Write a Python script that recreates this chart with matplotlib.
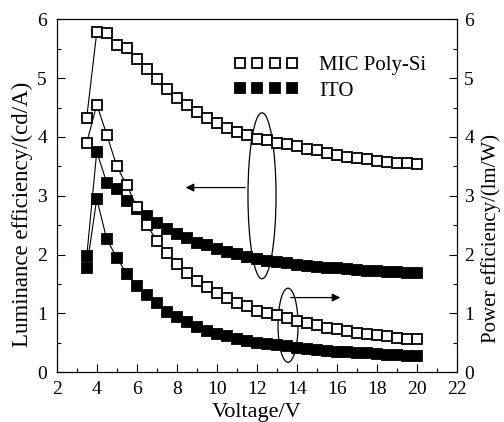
import matplotlib
matplotlib.use("Agg")
import matplotlib.pyplot as plt
import numpy as np
from matplotlib.patches import Ellipse

plt.rcParams['font.family'] = ['Liberation Serif', 'DejaVu Serif']
plt.rcParams['font.size'] = 14

# voltage steps (V)
voltage = np.arange(3.5, 20.01, 0.5)

# luminance efficiency (cd/A)
lum_mic = [4.33, 5.78, 5.77, 5.56, 5.52, 5.33, 5.16, 4.98, 4.82, 4.67,
           4.55, 4.43, 4.33, 4.24, 4.15, 4.08, 4.03, 3.96, 3.94, 3.89,
           3.88, 3.84, 3.80, 3.77, 3.73, 3.70, 3.66, 3.64, 3.62, 3.59,
           3.57, 3.56, 3.55, 3.54]
lum_ito = [1.97, 3.75, 3.22, 3.11, 2.91, 2.78, 2.66, 2.54, 2.43, 2.35,
           2.28, 2.20, 2.16, 2.09, 2.05, 2.01, 1.96, 1.92, 1.89, 1.87,
           1.85, 1.82, 1.80, 1.79, 1.78, 1.77, 1.76, 1.74, 1.73, 1.72,
           1.71, 1.70, 1.69, 1.68]

# power efficiency (lm/W)
pow_mic = [3.90, 4.55, 4.04, 3.50, 3.18, 2.81, 2.50, 2.24, 2.03, 1.84,
           1.69, 1.56, 1.45, 1.35, 1.27, 1.18, 1.12, 1.05, 1.01, 0.97,
           0.93, 0.87, 0.83, 0.80, 0.76, 0.73, 0.70, 0.67, 0.65, 0.63,
           0.61, 0.59, 0.57, 0.57]
pow_ito = [1.78, 2.95, 2.26, 1.95, 1.67, 1.47, 1.31, 1.17, 1.03, 0.94,
           0.86, 0.77, 0.70, 0.65, 0.61, 0.57, 0.53, 0.50, 0.48, 0.46,
           0.44, 0.42, 0.40, 0.38, 0.37, 0.35, 0.34, 0.33, 0.32, 0.31,
           0.30, 0.29, 0.28, 0.27]

fig = plt.figure(figsize=(5.04, 4.22), dpi=100)
ax = fig.add_axes([0.1125, 0.1178, 0.7948, 0.8365])
ax2 = ax.twinx()

ms = 7
open_style = dict(color='black', lw=0.8, marker='s', ms=ms, mfc='white', mec='black', mew=1.3)
fill_style = dict(color='black', lw=0.8, marker='s', ms=ms, mfc='black', mec='black', mew=1.3)

ax.plot(voltage, lum_mic, label='MIC Poly-Si', **open_style)
ax.plot(voltage, lum_ito, label='ITO', **fill_style)
ax2.plot(voltage, pow_mic, **open_style)
ax2.plot(voltage, pow_ito, **fill_style)

for a in (ax, ax2):
    a.set_ylim(0, 6)
    a.set_yticks(np.arange(0, 7, 1))
    a.set_yticks(np.arange(0, 6.01, 0.5), minor=True)
ax.set_xlim(2, 22)
ax.set_xticks(np.arange(2, 23, 2))
ax.set_xticks(np.arange(2, 22.01, 1), minor=True)

ax.tick_params(which='both', direction='in', top=False, right=False)
ax.tick_params(which='major', length=6, width=0.8)
ax.tick_params(which='minor', length=3, width=0.8)
ax.tick_params(axis='x', which='major', pad=6)
ax.tick_params(axis='y', which='major', pad=7)
ax2.tick_params(which='both', direction='in')
ax2.tick_params(which='major', length=6, width=0.8, pad=5)
ax2.tick_params(which='minor', length=3, width=0.8)

ax.set_xlabel('Voltage/V', fontsize=16)
ax.set_ylabel('Luminance efficiency/(cd/A)', fontsize=16.5)
ax2.set_ylabel('Power efficiency/(lm/W)', fontsize=15)
ax.xaxis.set_label_coords(0.5, -0.088)
ax.yaxis.set_label_coords(-0.058, 0.448)
ax2.yaxis.set_label_coords(1.0595, 0.378)

# ellipses and arrows
ax.add_patch(Ellipse((12.25, 3.0), 1.4, 2.82, fill=False, ec='black', lw=0.9))
ax.annotate('', xy=(8.3, 3.14), xytext=(11.55, 3.14),
            arrowprops=dict(arrowstyle='-|>', color='black', lw=0.9, mutation_scale=12))
ax.add_patch(Ellipse((13.55, 0.8), 1.0, 1.26, fill=False, ec='black', lw=0.9))
ax.annotate('', xy=(16.3, 1.27), xytext=(13.55, 1.27),
            arrowprops=dict(arrowstyle='-|>', color='black', lw=0.9, mutation_scale=12))

leg = ax.legend(loc='upper left', bbox_to_anchor=(0.4426, 0.897), frameon=False,
                numpoints=4, handlelength=3.07, handletextpad=1.0, labelspacing=0.28,
                borderpad=0, borderaxespad=0, fontsize=15)
for h in leg.get_lines():
    h.set_linestyle('none')
    h.set_markersize(7.5)

fig.savefig('out.png', dpi=100)
